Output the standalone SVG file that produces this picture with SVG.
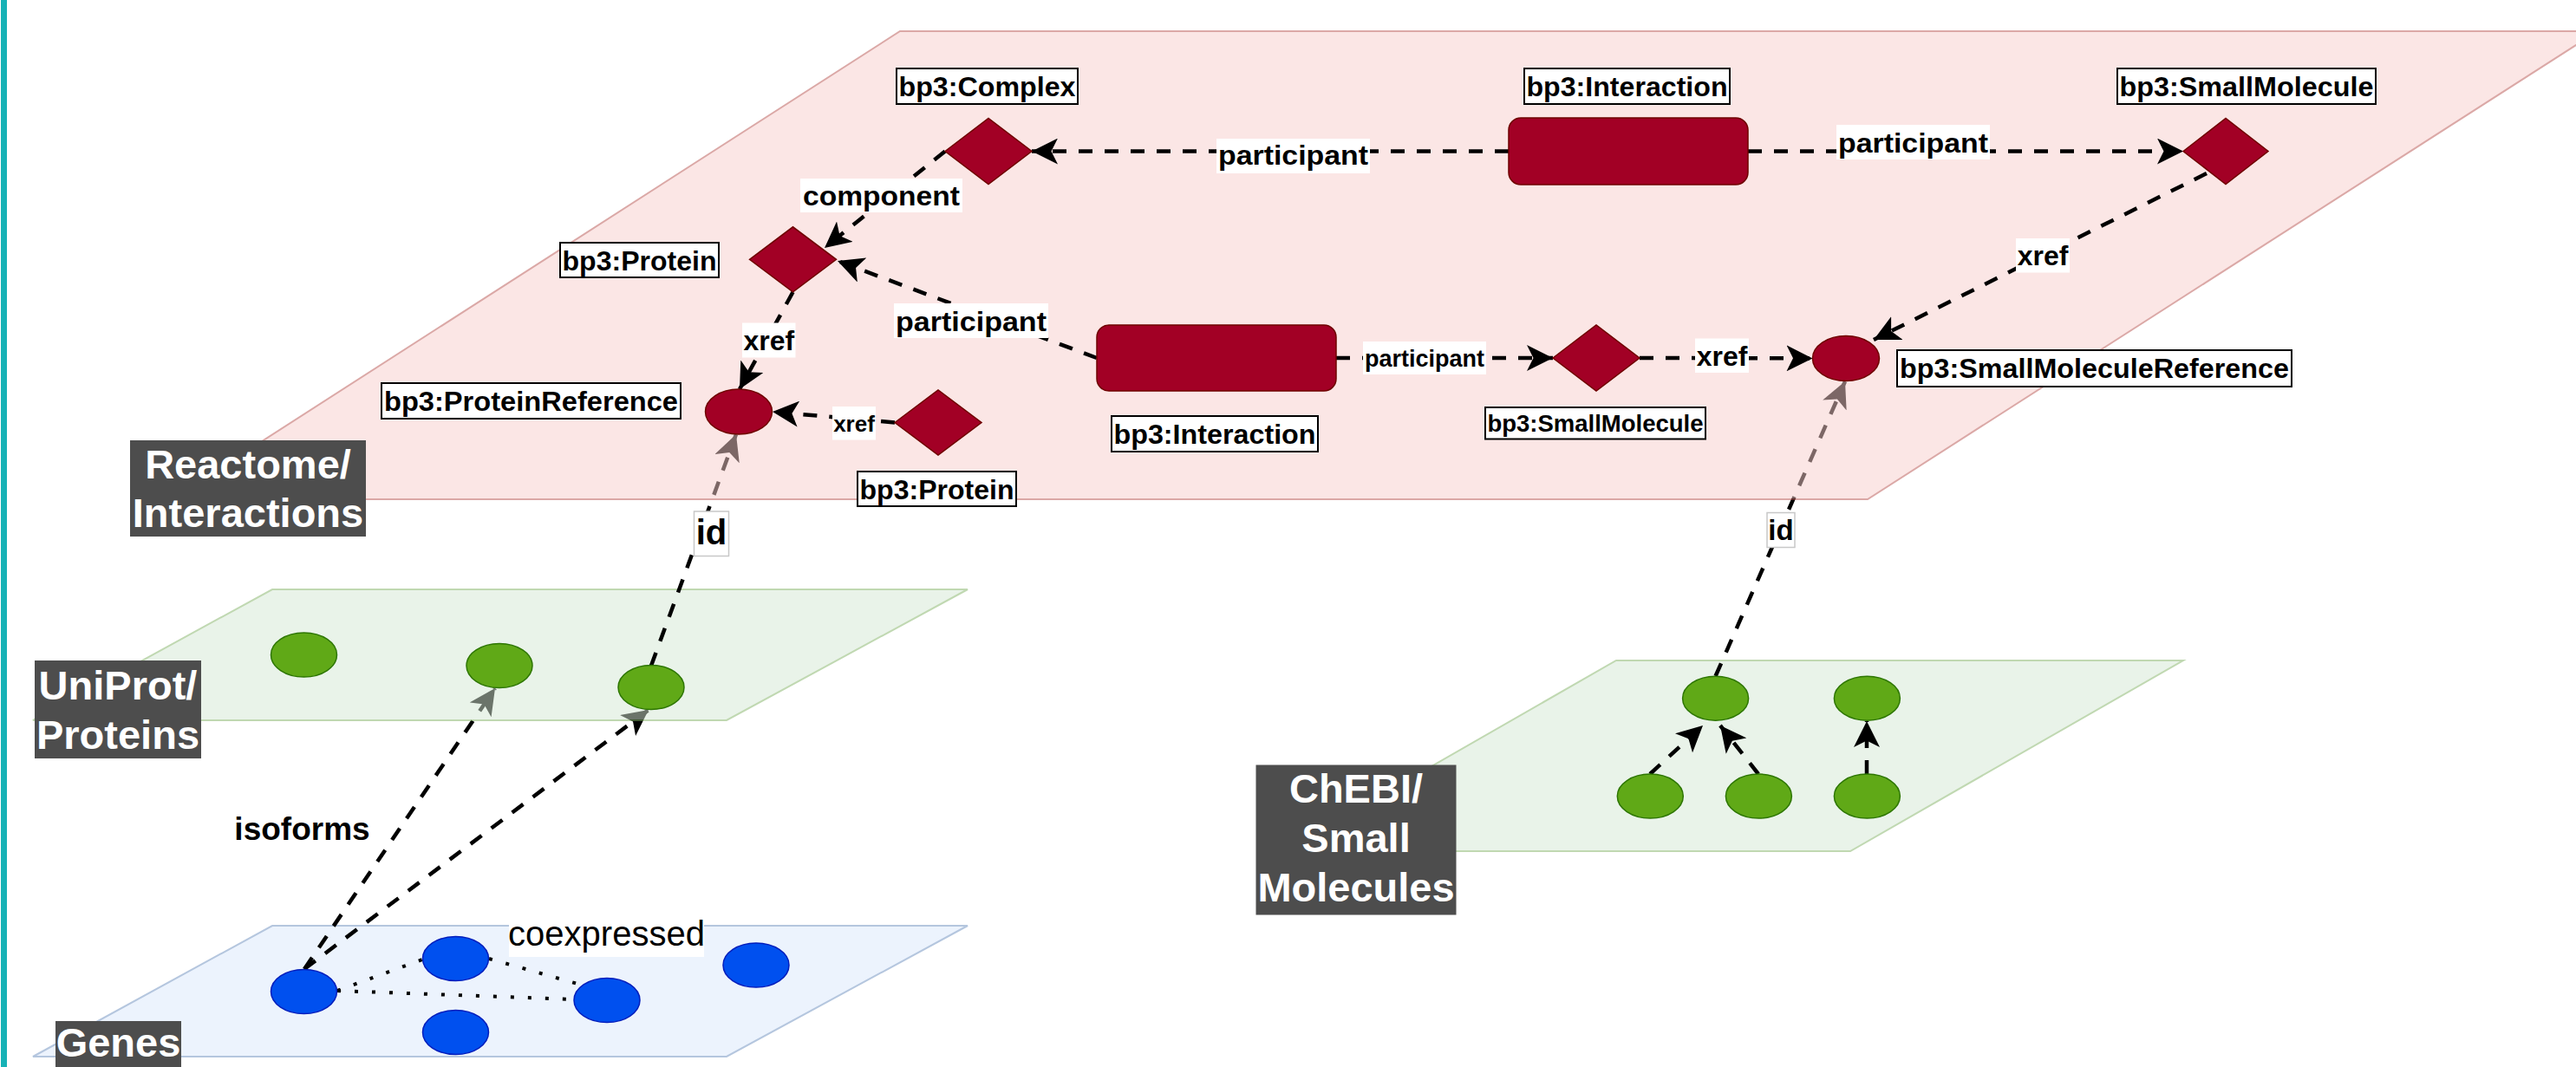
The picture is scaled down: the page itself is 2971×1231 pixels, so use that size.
<svg xmlns="http://www.w3.org/2000/svg" width="2971" height="1231" viewBox="0 0 2971 1231">
<style>
  text { font-family: "Liberation Sans", Arial, Helvetica, sans-serif; }
  .pl rect { fill: #4d4d4d; }
  .pl text { fill: #ffffff; font-weight: bold; font-size: 47px; text-anchor: middle; }
  .red { fill: #a20025; stroke: #6f0000; stroke-width: 1.5; }
  .green { fill: #60a917; stroke: #2d7600; stroke-width: 1.5; }
  .blue { fill: #0050ef; stroke: #001dbc; stroke-width: 1.5; }
  .nl rect { fill: #ffffff; stroke: #000000; stroke-width: 2; }
  .nl text { font-weight: bold; font-size: 32px; text-anchor: middle; fill: #000; }
  .el rect { fill: #ffffff; stroke: none; }
  .el text { font-weight: bold; font-size: 32px; text-anchor: middle; fill: #000; }
  .edge { fill: none; stroke: #000; stroke-width: 4.5; stroke-dasharray: 16 14; marker-end: url(#arr); }
  .dot { fill: none; stroke: #000; stroke-width: 4; stroke-dasharray: 4 16; }
  .plane { opacity: 0.5; stroke-width: 2; }
</style>
<defs>
  <marker id="arr" markerUnits="userSpaceOnUse" markerWidth="30" markerHeight="30" viewBox="0 0 30 30" refX="30" refY="15" orient="auto">
    <path d="M30,15 L0,0 L7.5,15 L0,30 Z" fill="#000"/>
  </marker>
</defs>
<rect x="0" y="0" width="2971" height="1231" fill="#ffffff"/>
<rect id="left-border" x="1" y="0" width="7" height="1231" fill="#17b2b6"/>

<g id="plane-genes"><polygon class="plane" points="314,1068 1116,1068 838,1219 38,1219" fill="#dae8fc" stroke="#6c8ebf"/></g>

<g id="connectors-under-planes">
  <path class="edge" d="M351,1118 L571,794"/>
  <path class="edge" d="M351,1118 L748,819"/>
</g>

<g id="plane-uniprot"><polygon class="plane" points="314,680 1116,680 838,831 38,831" fill="#d5e8d4" stroke="#82b366"/></g>
<g id="plane-chebi"><polygon class="plane" points="1864,762 2518,762 2134,982 1480,982" fill="#d5e8d4" stroke="#82b366"/></g>

<g id="connectors-id">
  <path class="edge" d="M751,768 L849,501"/>
  <path class="edge" d="M1978.6,780 L2128,440"/>
</g>

<g id="plane-reactome"><polygon class="plane" points="1038,36 2996,36 2154,576 198,576" fill="#f8cecc" stroke="#b85450"/></g>

<g id="connectors">
  <path class="edge" d="M1740,174.5 L1190,174.5"/>
  <path class="edge" d="M2016,174.5 L2518,174.5"/>
  <path class="edge" d="M1090,174.5 L951,286"/>
  <path class="edge" d="M1265,413 L966,301"/>
  <path class="edge" d="M914.5,337 L853,449"/>
  <path class="edge" d="M1032,487.5 L891,475"/>
  <path class="edge" d="M1541,413 L1791,413"/>
  <path class="edge" d="M1891,413 L2090.5,413.4"/>
  <path class="edge" d="M2545,200 L2161,392"/>
  <path class="edge" d="M1903,893 L1964,837"/>
  <path class="edge" d="M2028,893 L1984,837"/>
  <path class="edge" d="M2153,893 L2153,832"/>
  <path class="dot" d="M389,1143 L487,1107"/>
  <path class="dot" d="M389,1143 L662,1153"/>
  <path class="dot" d="M564,1106 L673,1137"/>
  <g class="el">
    <rect x="1403" y="160" width="177" height="40"/><text x="1491.5" y="190" textLength="173" lengthAdjust="spacingAndGlyphs">participant</text>
    <rect x="2118" y="144" width="177" height="40"/><text x="2206.5" y="175.5" textLength="173" lengthAdjust="spacingAndGlyphs">participant</text>
    <rect x="923" y="206" width="187" height="39"/><text x="1016.5" y="237" textLength="181" lengthAdjust="spacingAndGlyphs">component</text>
    <rect x="1031" y="350" width="178" height="40"/><text x="1120" y="381.5" textLength="174" lengthAdjust="spacingAndGlyphs">participant</text>
    <rect x="856" y="372.5" width="61.5" height="40"/><text x="886.75" y="403.5">xref</text>
    <rect x="960" y="469" width="50" height="38.5"/><text x="985" y="498" style="font-size:26px">xref</text>
    <rect x="1572" y="394" width="142" height="38"/><text x="1643" y="422.5" style="font-size:27px" textLength="138" lengthAdjust="spacingAndGlyphs">participant</text>
    <rect x="1955" y="390.5" width="62" height="39.5"/><text x="1986" y="421.5">xref</text>
    <rect x="2325" y="275" width="62" height="39.5"/><text x="2356" y="306">xref</text>
    <rect x="800.5" y="590" width="40" height="51.5" style="stroke:#c8c8c8;stroke-width:1.5"/><text x="820.5" y="628" style="font-size:40px">id</text>
    <rect x="2038" y="591.5" width="32" height="40" style="stroke:#c8c8c8;stroke-width:1.5"/><text x="2054" y="623" style="font-size:33px">id</text>
    <rect x="587" y="1058" width="225" height="46"/><text x="699.5" y="1091" style="font-size:40px;font-weight:normal">coexpressed</text>
    <text x="348.5" y="969" style="font-size:37px">isoforms</text>
  </g>
</g>

<g id="node-complex"><polygon class="red" points="1090,174.5 1140,136.5 1190,174.5 1140,212.5"/></g>
<g id="node-interaction-top"><rect class="red" x="1740" y="136" width="276" height="77" rx="14"/></g>
<g id="node-smallmolecule-top"><polygon class="red" points="2518,174.5 2567,136.5 2616,174.5 2567,212.5"/></g>
<g id="node-protein-top"><polygon class="red" points="864.5,299.3 914.5,261.8 964.5,299.3 914.5,336.8"/></g>
<g id="node-proteinreference"><ellipse class="red" cx="852" cy="475" rx="38.5" ry="26"/></g>
<g id="node-protein-bottom"><polygon class="red" points="1032,487.5 1082,450 1132,487.5 1082,525"/></g>
<g id="node-interaction-bottom"><rect class="red" x="1265" y="375" width="276" height="76" rx="14"/></g>
<g id="node-smallmolecule-bottom"><polygon class="red" points="1791,413 1841,375 1891,413 1841,451"/></g>
<g id="node-smallmoleculereference"><ellipse class="red" cx="2129" cy="413.4" rx="38.5" ry="26"/></g>

<g id="node-labels" class="nl">
  <rect x="1034" y="79" width="209" height="41"/><text x="1138.5" y="111" textLength="204" lengthAdjust="spacingAndGlyphs">bp3:Complex</text>
  <rect x="1758" y="79" width="237" height="41"/><text x="1876.5" y="111" textLength="232" lengthAdjust="spacingAndGlyphs">bp3:Interaction</text>
  <rect x="2442" y="79" width="298" height="41"/><text x="2591" y="111" textLength="293" lengthAdjust="spacingAndGlyphs">bp3:SmallMolecule</text>
  <rect x="646" y="280" width="183" height="40"/><text x="737.5" y="311.5" textLength="178" lengthAdjust="spacingAndGlyphs">bp3:Protein</text>
  <rect x="440" y="442" width="345" height="41"/><text x="612.5" y="473.5" textLength="339" lengthAdjust="spacingAndGlyphs">bp3:ProteinReference</text>
  <rect x="989" y="544" width="183" height="40"/><text x="1080.5" y="575.5" textLength="178" lengthAdjust="spacingAndGlyphs">bp3:Protein</text>
  <rect x="1282" y="480" width="238" height="41"/><text x="1401" y="511.5" textLength="233" lengthAdjust="spacingAndGlyphs">bp3:Interaction</text>
  <rect x="1713" y="470" width="254" height="36.5"/><text x="1840" y="497.5" style="font-size:27px" textLength="249" lengthAdjust="spacingAndGlyphs">bp3:SmallMolecule</text>
  <rect x="2188" y="404" width="455" height="42"/><text x="2415.5" y="436" textLength="449" lengthAdjust="spacingAndGlyphs">bp3:SmallMoleculeReference</text>
</g>

<g id="node-uniprot-1"><ellipse class="green" cx="350.5" cy="755.5" rx="38" ry="25.5"/></g>
<g id="node-uniprot-2"><ellipse class="green" cx="576" cy="768" rx="38" ry="25.5"/></g>
<g id="node-uniprot-3"><ellipse class="green" cx="751" cy="793" rx="38" ry="25.5"/></g>

<g id="node-gene-1"><ellipse class="blue" cx="350.5" cy="1144" rx="38" ry="25.5"/></g>
<g id="node-gene-2"><ellipse class="blue" cx="525.5" cy="1106" rx="38" ry="25.5"/></g>
<g id="node-gene-3"><ellipse class="blue" cx="700" cy="1154" rx="38" ry="25.5"/></g>
<g id="node-gene-4"><ellipse class="blue" cx="525.5" cy="1191" rx="38" ry="25.5"/></g>
<g id="node-gene-5"><ellipse class="blue" cx="872" cy="1113.5" rx="38" ry="25.5"/></g>

<g id="node-chebi-1"><ellipse class="green" cx="1978.6" cy="805.7" rx="38" ry="25.5"/></g>
<g id="node-chebi-2"><ellipse class="green" cx="2153.4" cy="805.7" rx="38" ry="25.5"/></g>
<g id="node-chebi-3"><ellipse class="green" cx="1903.3" cy="918.6" rx="38" ry="25.5"/></g>
<g id="node-chebi-4"><ellipse class="green" cx="2028.4" cy="918.6" rx="38" ry="25.5"/></g>
<g id="node-chebi-5"><ellipse class="green" cx="2153.4" cy="918.6" rx="38" ry="25.5"/></g>

<g id="label-reactome" class="pl"><rect x="150" y="508" width="272" height="111"/><text x="286" y="552">Reactome/</text><text x="286" y="608">Interactions</text></g>
<g id="label-uniprot" class="pl"><rect x="40" y="762" width="192" height="113"/><text x="136" y="807">UniProt/</text><text x="136" y="864">Proteins</text></g>
<g id="label-genes" class="pl"><rect x="64" y="1178" width="145" height="62"/><text x="136.5" y="1219">Genes</text></g>
<g id="label-chebi" class="pl"><rect x="1448.5" y="882.5" width="231" height="173"/><text x="1564" y="926">ChEBI/</text><text x="1564" y="983">Small</text><text x="1564" y="1040">Molecules</text></g>
</svg>
